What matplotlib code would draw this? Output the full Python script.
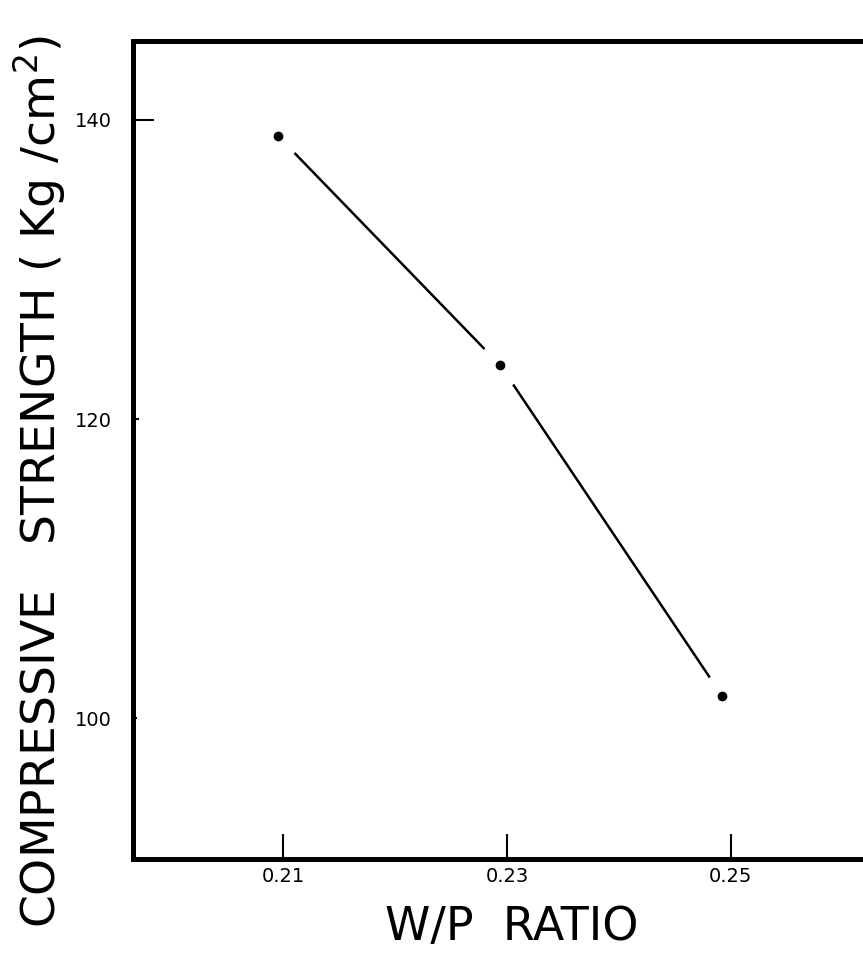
import matplotlib
matplotlib.use("Agg")
import matplotlib.pyplot as plt

# dati
wp_ratio = [0.2096, 0.2294, 0.2492]
strength = [138.9, 123.6, 101.5]
xtick_vals = [0.21, 0.23, 0.25]
xtick_labels = ["0.21", "0.23", "0.25"]
ytick_vals = [100, 120, 140]

plt.rcParams["font.family"] = ["DejaVu Sans"]

fig = plt.figure(figsize=(8.63, 9.68), dpi=100)
ax = fig.add_axes([0.154, 0.1126, 0.846, 0.845])

# linea con interruzioni vicino ai punti
ax.plot(wp_ratio, strength, color="black", lw=1.8, zorder=2)
ax.plot(wp_ratio, strength, "o", ms=32, color="white", zorder=3)
ax.plot(wp_ratio, strength, "o", ms=6, color="black", zorder=4)

ax.set_xlim(0.1966, 0.2618)
ax.set_ylim(90.57, 145.28)

ax.set_xticks(xtick_vals)
ax.set_xticklabels(xtick_labels)
ax.set_yticks(ytick_vals)

ax.tick_params(axis="x", direction="in", length=18, width=1.5,
               labelsize=14, pad=6)
ax.tick_params(axis="y", direction="in", length=15, width=1.5,
               labelsize=14, pad=15)

# solo il tick a 140 e' lungo
yt = ax.yaxis.get_major_ticks()
yt[0].tick1line.set_markersize(3)
yt[1].tick1line.set_markersize(4)

for s in ["left", "top", "bottom"]:
    ax.spines[s].set_linewidth(3.6)
ax.spines["right"].set_visible(False)

fig.text(512 / 863, 1 - 928 / 968, "W/P  RATIO", fontsize=33,
         ha="center", va="center")
fig.text(40 / 863, 1 - 482 / 968, "COMPRESSIVE   STRENGTH ( Kg /cm$^2$)",
         fontsize=34, rotation=90, ha="center", va="center")

fig.savefig("out.png", dpi=100)
